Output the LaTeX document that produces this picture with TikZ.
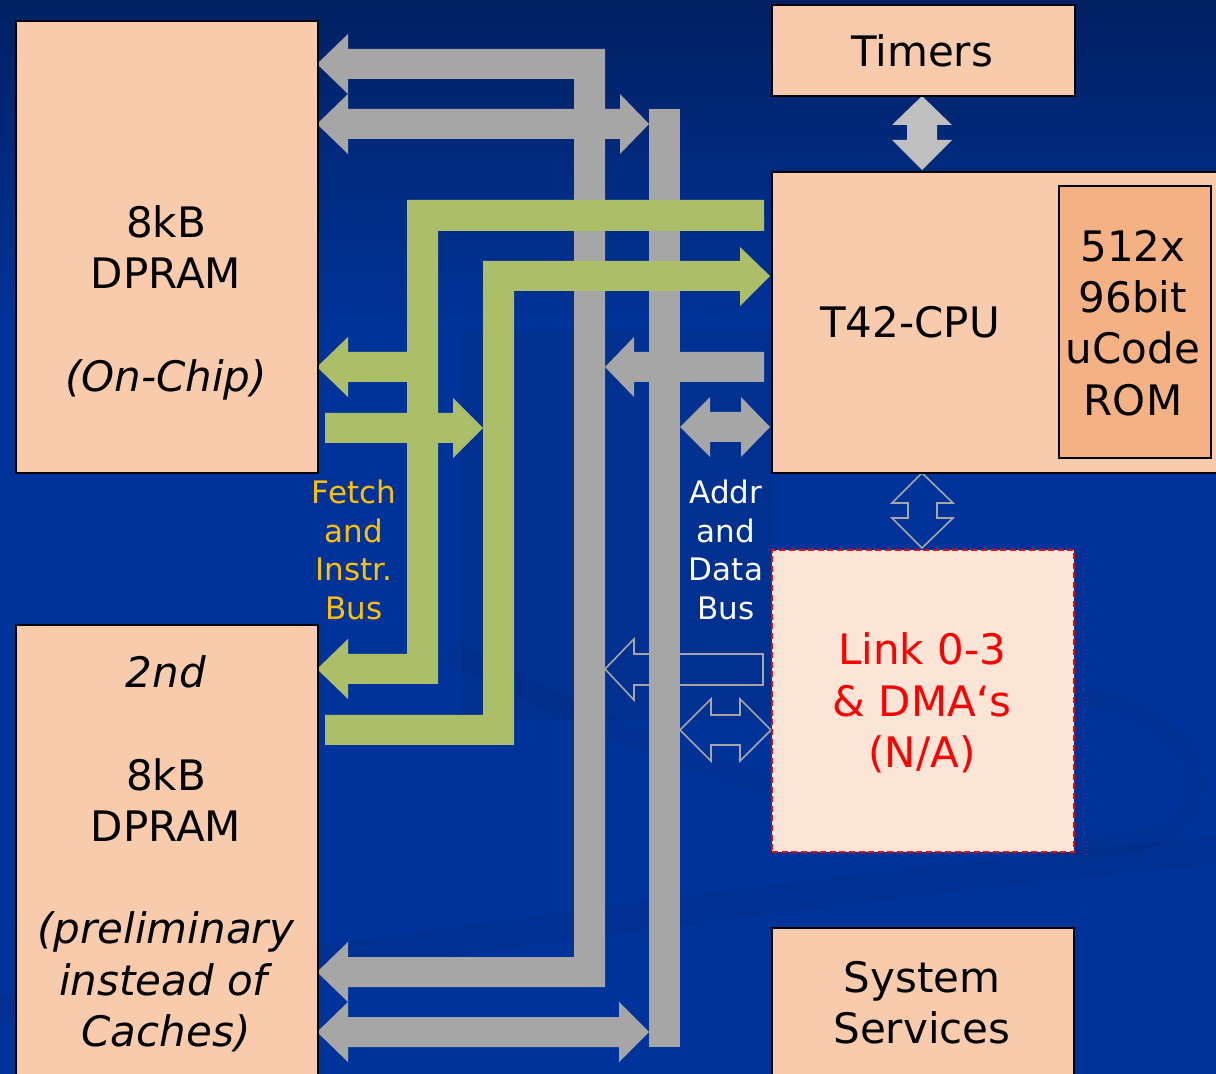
\documentclass[tikz,border=0pt]{standalone}
\usepackage{fontspec}
\setmainfont{DejaVu Sans}
\definecolor{peach}{HTML}{F8CBAD}
\definecolor{romc}{HTML}{F4B183}
\definecolor{linkc}{HTML}{FBE5D6}
\definecolor{bargray}{HTML}{A6A6A6}
\definecolor{lgray}{HTML}{C0C0C0}
\definecolor{greenbus}{HTML}{ADBE69}
\definecolor{fetchc}{HTML}{FFC000}
\definecolor{bgtop}{HTML}{012062}
\definecolor{bgmain}{HTML}{003399}
\definecolor{redtxt}{HTML}{FF0000}
\begin{document}
\begin{tikzpicture}[x=0.5pt,y=-0.5pt,
  box/.style={draw=black,line width=1pt,fill=peach,anchor=north west,inner sep=0pt},
  gbar/.style={fill=bargray},
  gbus/.style={fill=greenbus},
  hollow/.style={draw=bargray,line width=0.8pt,line join=miter},
  big/.style={font=\fontsize{21}{25.6}\selectfont,align=center,inner sep=0pt},
  small/.style={font=\fontsize{15.5}{19.3}\selectfont,align=center,inner sep=0pt}]
\useasboundingbox (0,0) rectangle (1216,1074);
% background
\fill[bgmain] (0,0) rectangle (1216,1074);
\shade[top color=bgtop,bottom color=bgmain] (0,0) rectangle (1216,330);
\fill[black,opacity=0.06] (462,330) rectangle (771,720);
\draw[black,opacity=0.05,line width=14pt] (0,1010) .. controls (500,930) and (900,880) .. (1216,850);
\draw[black,opacity=0.04,line width=10pt] (450,650) .. controls (700,790) and (1100,900) .. (1180,820) .. controls (1230,760) and (1150,700) .. (1050,690);

% hollow arrows (under bar 2)
\draw[hollow] (605,669) -- (634,639) -- (634,654) -- (763,654) -- (763,685) -- (634,685) -- (634,700) -- cycle;
\draw[hollow] (680,730) -- (711,699) -- (711,715) -- (740,715) -- (740,699) -- (771,730) -- (740,761) -- (740,745) -- (711,745) -- (711,761) -- cycle;
\draw[hollow] (922,473) -- (953,503) -- (937,503) -- (937,518) -- (953,518) -- (922,548) -- (892,518) -- (908,518) -- (908,503) -- (892,503) -- cycle;

% gray bus 1 with its two left arrows
\fill[gbar] (317,64) -- (348,34) -- (348,49) -- (605,49) -- (605,987) -- (348,987) -- (348,1002) -- (317,972) -- (348,942) -- (348,957) -- (574,957) -- (574,79) -- (348,79) -- (348,94) -- cycle;
% gray bus 2
\fill[gbar] (649,109) rectangle (680,1047);
% double arrows to bus 2
\fill[gbar] (317,124) -- (348,94) -- (348,109) -- (620,109) -- (620,94) -- (649,124) -- (620,154) -- (620,139) -- (348,139) -- (348,154) -- cycle;
\fill[gbar] (317,1032) -- (348,1002) -- (348,1017) -- (619,1017) -- (619,1002) -- (649,1032) -- (619,1062) -- (619,1047) -- (348,1047) -- (348,1062) -- cycle;
% CPU arrows
\fill[gbar] (605,367) -- (634,337) -- (634,352) -- (764,352) -- (764,382) -- (634,382) -- (634,397) -- cycle;
\fill[gbar] (680,427) -- (710,397) -- (710,412) -- (741,412) -- (741,397) -- (770,427) -- (741,457) -- (741,442) -- (710,442) -- (710,457) -- cycle;
% timers arrow
\fill[lgray] (922,96) -- (952,125) -- (937,125) -- (937,140) -- (952,140) -- (922,170) -- (892,140) -- (907,140) -- (907,125) -- (892,125) -- cycle;

% green fetch / instruction bus
\fill[gbus] (764,200) -- (764,231) -- (438,231) -- (438,684) -- (348,684) -- (348,699) -- (317,669) -- (348,639) -- (348,654) -- (407,654) -- (407,382) -- (348,382) -- (348,397) -- (317,367) -- (348,337) -- (348,352) -- (407,352) -- (407,200) -- cycle;
\fill[gbus] (483,261) -- (740,261) -- (740,247) -- (770,276) -- (740,306) -- (740,291) -- (514,291) -- (514,745) -- (325,745) -- (325,715) -- (483,715) -- cycle;
\fill[gbus] (325,413) -- (453,413) -- (453,398) -- (483,428) -- (453,458) -- (453,443) -- (325,443) -- cycle;

% boxes
\node[box,minimum width=151pt,minimum height=226pt] (dpram1) at (15,20) {};
\node[box,minimum width=151pt,minimum height=230pt] (dpram2) at (15,624) {};
\node[box,minimum width=151.5pt,minimum height=45.5pt] (timers) at (771,4) {};
\node[box,minimum width=226pt,minimum height=150.5pt] (cpu) at (771,171) {};
\node[box,fill=romc,line width=0.8pt,minimum width=76pt,minimum height=136pt] (rom) at (1058,185) {};
\node[box,fill=linkc,draw=red,line width=1.2pt,dash pattern=on 3pt off 1.8pt,minimum width=151pt,minimum height=151pt] (link) at (771,549) {};
\node[box,minimum width=151pt,minimum height=80pt] (sys) at (771,927) {};

% texts
\node[big] (t1) at (166,303) {8kB\\DPRAM\\~\\\textit{(On-Chip)}};
\node[big] (t2) at (166,854) {\textit{2nd}\\~\\8kB\\DPRAM\\~\\\textit{(preliminary}\\\textit{instead of}\\\textit{Caches)}};
\node[big] (tt) at (922,51) {Timers};
\node[big] (tc) at (910,322) {T42-CPU};
\node[big] (tr) at (1133,323) {512x\\96bit\\uCode\\ROM};
\node[big,text=redtxt] (tl) at (922,703) {Link 0-3\\\& DMA‘s\\(N/A)};
\node[big] (ts) at (922,1003) {System\\Services};
\node[small,text=fetchc] (tf) at (354,550) {Fetch\\and\\Instr.\\Bus};
\node[small,text=white] (ta) at (726,550) {Addr\\and\\Data\\Bus};
\end{tikzpicture}
\end{document}
